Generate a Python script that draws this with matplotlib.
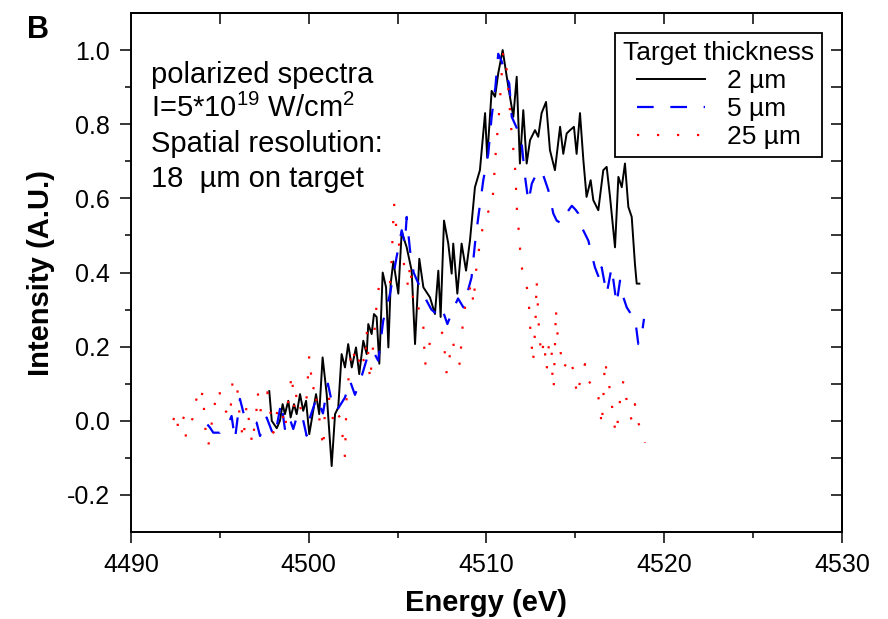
import numpy as np
import matplotlib
matplotlib.use("Agg")
import matplotlib.pyplot as plt

plt.rcParams['font.family'] = ['Liberation Sans', 'DejaVu Sans']
plt.rcParams['mathtext.fontset'] = 'custom'
plt.rcParams['mathtext.rm'] = 'Liberation Sans'
plt.rcParams['mathtext.it'] = 'Liberation Sans:italic'
plt.rcParams['axes.unicode_minus'] = False

# 2 um target (black solid)
black_e = [4497.78, 4497.92, 4498.20, 4498.38, 4498.53, 4498.66, 4498.85, 4498.98, 4499.17, 4499.32,
           4499.51, 4499.69, 4499.85, 4500.03, 4500.22, 4500.41, 4500.59, 4500.78, 4501.01, 4501.29,
           4501.48, 4501.66, 4501.85, 4502.04, 4502.22, 4502.42, 4502.66, 4502.84, 4503.07, 4503.26,
           4503.35, 4503.54, 4503.67, 4503.82, 4503.97, 4504.16, 4504.35, 4504.48, 4504.61, 4504.76,
           4505.04, 4505.23, 4505.51, 4505.79, 4505.98, 4506.22, 4506.45, 4506.82, 4507.10, 4507.29,
           4507.42, 4507.61, 4507.85, 4508.04, 4508.13, 4508.36, 4508.60, 4508.85, 4509.07, 4509.35,
           4509.63, 4509.92, 4510.04, 4510.29, 4510.48, 4510.66, 4510.91, 4511.14, 4511.32, 4511.51,
           4511.70, 4511.88, 4512.07, 4512.26, 4512.45, 4512.73, 4512.91, 4513.10, 4513.35, 4513.57,
           4513.85, 4514.14, 4514.32, 4514.51, 4514.70, 4514.92, 4515.07, 4515.26, 4515.45, 4515.63,
           4515.86, 4516.01, 4516.29, 4516.57, 4516.76, 4516.95, 4517.23, 4517.42, 4517.61, 4517.79,
           4517.98, 4518.17, 4518.35, 4518.45, 4518.60]
black_i = [0.080, 0.000, -0.020, 0.000, 0.045, 0.018, 0.054, 0.009, 0.045, 0.018,
           0.072, 0.027, 0.054, -0.036, 0.018, 0.072, 0.018, 0.171, 0.072, -0.122,
           0.018, 0.036, 0.180, 0.144, 0.207, 0.144, 0.198, 0.126, 0.216, 0.180,
           0.261, 0.234, 0.288, 0.280, 0.154, 0.400, 0.360, 0.198, 0.370, 0.430,
           0.343, 0.510, 0.468, 0.405, 0.207, 0.437, 0.360, 0.333, 0.288, 0.405,
           0.280, 0.540, 0.478, 0.397, 0.478, 0.343, 0.478, 0.405, 0.486, 0.630,
           0.676, 0.830, 0.710, 0.890, 0.874, 0.937, 1.000, 0.928, 0.874, 0.820,
           0.928, 0.694, 0.838, 0.694, 0.757, 0.784, 0.766, 0.830, 0.860, 0.730,
           0.676, 0.793, 0.720, 0.775, 0.784, 0.793, 0.720, 0.830, 0.703, 0.604,
           0.649, 0.595, 0.568, 0.676, 0.685, 0.604, 0.468, 0.658, 0.630, 0.694,
           0.577, 0.550, 0.424, 0.370, 0.370]

# 5 um target (blue dashed)
blue_e = [4494.30, 4494.44, 4494.63, 4495.00, 4495.19, 4495.47, 4495.66, 4495.85, 4496.13, 4496.32,
          4496.60, 4497.07, 4497.26, 4497.63, 4497.99, 4498.10, 4498.45, 4498.66, 4498.90, 4499.13,
          4499.32, 4499.60, 4499.88, 4500.07, 4500.45, 4500.80, 4501.08, 4501.30, 4501.57, 4502.04,
          4502.32, 4502.60, 4502.88, 4503.10, 4503.35, 4503.60, 4503.91, 4504.19, 4504.57, 4504.94,
          4505.23, 4505.41, 4505.51, 4505.70, 4505.90, 4506.17, 4506.35, 4506.63, 4506.90, 4507.20,
          4507.48, 4507.80, 4508.09, 4508.40, 4508.70, 4508.95, 4509.16, 4509.35, 4509.54, 4509.82,
          4510.10, 4510.29, 4510.50, 4510.66, 4510.85, 4511.04, 4511.28, 4511.42, 4511.70, 4511.98,
          4512.17, 4512.36, 4512.55, 4512.73, 4513.01, 4513.16, 4513.48, 4513.76, 4513.95, 4514.23,
          4514.50, 4514.80, 4515.00, 4515.17, 4515.35, 4515.73, 4516.10, 4516.39, 4516.48, 4516.76,
          4517.04, 4517.32, 4517.51, 4517.70, 4517.89, 4518.10, 4518.35, 4518.54, 4518.70, 4518.86]
blue_i = [-0.010, -0.018, -0.032, -0.032, -0.018, -0.009, 0.013, -0.050, 0.059, 0.023,
          0.000, -0.005, -0.041, 0.009, -0.036, -0.041, 0.050, -0.022, 0.010, -0.022,
          0.009, 0.020, -0.040, 0.009, 0.063, 0.020, 0.100, 0.050, 0.027, 0.063,
          0.108, 0.070, 0.105, 0.140, 0.180, 0.190, 0.162, 0.270, 0.342, 0.441,
          0.514, 0.477, 0.550, 0.459, 0.400, 0.370, 0.360, 0.324, 0.300, 0.288,
          0.306, 0.261, 0.297, 0.330, 0.306, 0.350, 0.387, 0.477, 0.550, 0.649,
          0.720, 0.820, 0.900, 0.990, 0.970, 0.937, 0.910, 0.820, 0.790, 0.748,
          0.658, 0.590, 0.640, 0.658, 0.649, 0.667, 0.622, 0.559, 0.540, 0.532,
          0.560, 0.580, 0.570, 0.559, 0.523, 0.486, 0.414, 0.378, 0.414, 0.342,
          0.414, 0.315, 0.378, 0.333, 0.306, 0.290, 0.279, 0.207, 0.220, 0.275]

# 25 um target (red dotted)
red_e = [4492.38, 4492.57, 4492.66, 4492.98, 4493.09, 4493.19, 4493.47, 4493.70, 4493.88, 4494.03,
         4494.12, 4494.20, 4494.35, 4494.69, 4494.95, 4495.14, 4495.38, 4495.57, 4495.72, 4495.94,
         4496.13, 4496.32, 4496.51, 4496.66, 4496.82, 4497.07, 4497.13, 4497.26, 4497.48, 4497.67,
         4497.86, 4498.01, 4498.29, 4498.53, 4498.66, 4498.90, 4499.05, 4499.20, 4499.32, 4499.60,
         4499.88, 4500.03, 4500.11, 4500.22, 4500.35, 4500.45, 4500.54, 4500.82, 4500.91, 4501.15,
         4501.38, 4501.48, 4501.76, 4501.94, 4502.04, 4502.13, 4502.42, 4502.60, 4502.79, 4502.88,
         4503.17, 4503.26, 4503.45, 4503.73, 4503.82, 4503.97, 4504.29, 4504.57, 4504.66, 4504.72,
         4504.80, 4504.94, 4505.10, 4505.32, 4505.60, 4505.70, 4505.88, 4506.07, 4506.30, 4506.45,
         4506.54, 4506.82, 4507.10, 4507.38, 4507.57, 4507.66, 4507.76, 4507.95, 4508.10, 4508.23,
         4508.40, 4508.51, 4508.60, 4508.70, 4508.89, 4509.16, 4509.26, 4509.45, 4509.73, 4510.04,
         4510.29, 4510.38, 4510.53, 4510.72, 4510.94, 4511.14, 4511.32, 4511.40, 4511.60, 4511.66,
         4511.70, 4511.79, 4511.88, 4511.98, 4512.26, 4512.39, 4512.45, 4512.54, 4512.62, 4512.70,
         4512.76, 4512.82, 4512.86, 4512.91, 4512.97, 4513.10, 4513.23, 4513.38, 4513.53, 4513.66,
         4513.72, 4513.78, 4513.91, 4513.95, 4514.14, 4514.32, 4514.66, 4514.98, 4515.07, 4515.26,
         4515.54, 4515.63, 4515.92, 4516.20, 4516.39, 4516.48, 4516.57, 4516.66, 4516.86, 4517.04,
         4517.13, 4517.32, 4517.42, 4517.51, 4517.70, 4517.89, 4518.17, 4518.35, 4518.54, 4518.92]
red_i = [0.002, 0.023, -0.027, 0.011, -0.043, -0.025, 0.007, 0.063, 0.045, 0.079,
         0.024, -0.029, -0.068, 0.041, 0.086, 0.036, 0.023, 0.009, 0.110, 0.110,
         0.003, -0.052, 0.045, -0.007, -0.063, 0.033, 0.077, 0.023, 0.059, 0.077,
         0.018, -0.032, 0.041, 0.018, -0.023, 0.074, 0.126, 0.027, 0.077, 0.023,
         0.063, 0.176, 0.135, 0.081, 0.099, 0.045, 0.027, -0.075, 0.027, 0.060,
         0.000, 0.027, 0.009, -0.054, -0.099, 0.063, 0.198, 0.170, 0.144, 0.189,
         0.153, 0.243, 0.108, 0.261, 0.315, 0.370, 0.360, 0.370, 0.430, 0.500,
         0.586, 0.514, 0.470, 0.432, 0.360, 0.423, 0.324, 0.333, 0.270, 0.252,
         0.149, 0.212, 0.230, 0.243, 0.234, 0.180, 0.126, 0.180, 0.216, 0.185,
         0.171, 0.149, 0.225, 0.279, 0.333, 0.370, 0.315, 0.423, 0.509, 0.563,
         0.568, 0.620, 0.730, 0.838, 0.995, 0.946, 0.838, 0.784, 0.689, 0.630,
         0.577, 0.527, 0.468, 0.414, 0.365, 0.311, 0.257, 0.203, 0.158, 0.216,
         0.270, 0.378, 0.338, 0.284, 0.230, 0.176, 0.216, 0.135, 0.216, 0.194,
         0.108, 0.086, 0.302, 0.248, 0.194, 0.140, 0.171, 0.122, 0.068, 0.104,
         0.153, 0.117, 0.095, 0.090, 0.036, -0.014, 0.054, 0.162, 0.108, 0.054,
         0.000, -0.036, 0.018, 0.054, 0.108, 0.054, 0.000, 0.045, -0.005, -0.059]

fig = plt.figure(figsize=(8.88, 6.19), dpi=100)
ax = fig.add_axes([0.1475, 0.1405, 0.8007, 0.8385])

ax.plot(black_e, black_i, color='black', lw=1.4, label='2 µm')
ax.plot(blue_e, blue_i, color='#0000ff', lw=1.6, dashes=(7.5, 7.5), label='5 µm')
ax.plot(red_e, red_i, color='#ff0000', lw=1.6, linestyle=(0, (1, 8)), label='25 µm')

ax.set_xlim(4490, 4530)
ax.set_ylim(-0.3, 1.1)
ax.set_xticks([4490, 4500, 4510, 4520, 4530])
ax.set_xticks([4495, 4505, 4515, 4525], minor=True)
ax.set_yticks([-0.2, 0.0, 0.2, 0.4, 0.6, 0.8, 1.0])
ax.set_yticks([-0.1, 0.1, 0.3, 0.5, 0.7, 0.9], minor=True)
ax.set_yticklabels(['%.1f' % v for v in [-0.2, 0.0, 0.2, 0.4, 0.6, 0.8, 1.0]])
ax.tick_params(which='major', direction='out', length=8, width=1.1, labelsize=18, pad=7)
ax.tick_params(which='minor', direction='out', length=4, width=1.1)
for s in ax.spines.values():
    s.set_linewidth(1.4)

# inward ticks on top and right, no labels
top = ax.secondary_xaxis('top')
top.set_xticks([4495, 4500, 4505, 4510, 4515, 4520, 4525])
top.tick_params(direction='in', length=8, width=1.1, labeltop=False)
top.spines['top'].set_linewidth(1.4)
right = ax.secondary_yaxis('right')
right.set_yticks([-0.2, -0.1, 0.0, 0.1, 0.2, 0.3, 0.4, 0.5, 0.6, 0.7, 0.8, 0.9, 1.0])
right.tick_params(direction='in', length=8, width=1.1, labelright=False)
right.spines['right'].set_linewidth(1.4)

ax.set_xlabel('Energy (eV)', fontsize=21, fontweight='bold', labelpad=9)
ax.set_ylabel('Intensity (A.U.)', fontsize=21, fontweight='bold', labelpad=9)

# annotation text
ax.text(0.028, 0.865, 'polarized spectra', transform=ax.transAxes, fontsize=21, va='baseline')
ax.text(0.028, 0.800, 'I=5*10$^{19}$ W/cm$^{2}$', transform=ax.transAxes, fontsize=21, va='baseline')
ax.text(0.028, 0.732, 'Spatial resolution:', transform=ax.transAxes, fontsize=21, va='baseline')
ax.text(0.028, 0.665, '18  µm on target', transform=ax.transAxes, fontsize=21, va='baseline')

leg = ax.legend(title='Target thickness', loc='upper right', bbox_to_anchor=(0.972, 0.961),
                borderaxespad=0, fontsize=19, title_fontsize=19, fancybox=False,
                edgecolor='black', framealpha=1, handlelength=2.6, handletextpad=0.8,
                labelspacing=0.15, borderpad=0.3)
leg.get_frame().set_linewidth(1.3)

fig.text(0.03, 0.976, 'B', fontsize=22, fontweight='bold', va='top')

fig.savefig('out.png', dpi=100)
